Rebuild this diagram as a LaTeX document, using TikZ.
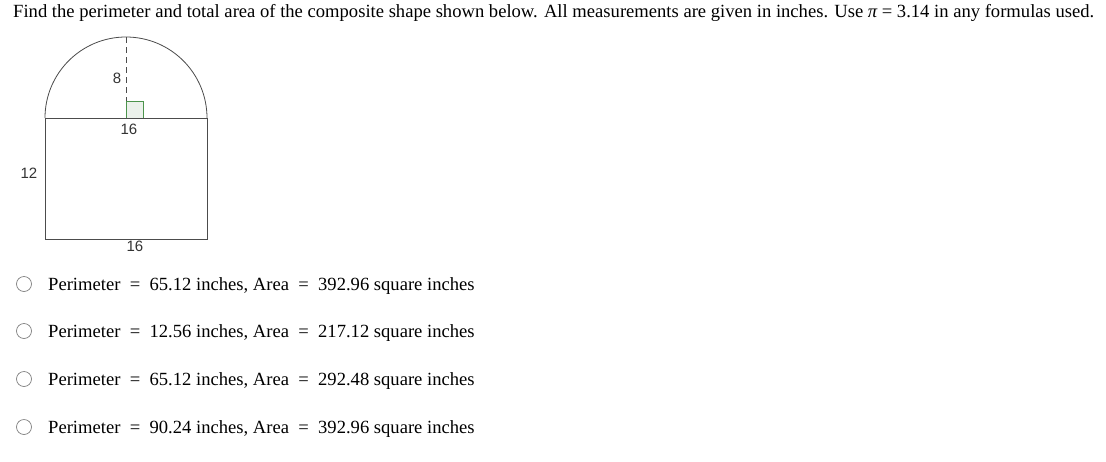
\documentclass[tikz,border=0pt]{standalone}
\usepackage{fontspec}
\setmainfont{Liberation Serif}
\setsansfont{Liberation Sans}
\begin{document}
\begin{tikzpicture}[x=1pt,y=-1pt,
	shape line/.style={draw=black!70,line width=0.8pt},
	dim label/.style={font=\sffamily\fontsize{15}{17}\selectfont,text=black!80,inner sep=0pt},
	body text/.style={font=\fontsize{18.6}{21}\selectfont,anchor=west,inner sep=0pt},
	radio/.style={circle,draw=black!50,line width=0.7pt,minimum size=15pt,inner sep=0pt}]
	\useasboundingbox (0,0) rectangle (1106,461);
	% Question
	\node[body text] (question) at (13,13) {Find the perimeter and total area of the composite shape shown below. All measurements are given in inches. Use {\itshape π} = 3.14 in any formulas used.};
	% Semicircle on top of the rectangle
	\draw[black!70,line width=0.7pt,dash pattern=on 6pt off 4pt] (126,37) -- (126,101);
	\draw[draw=green!40!black!70,fill=green!30!black!8,line width=0.7pt] (126,101) rectangle (143,118);
	\draw[shape line] (45,118) arc[start angle=180,end angle=0,radius=81pt];
	% Rectangle
	\draw[shape line] (45,118) rectangle (207,239);
	% Labels
	\node[dim label] (radius) at (117,78) {8};
	\node[dim label] (diameter) at (129,129) {16};
	\node[dim label] (height) at (29,173) {12};
	\node[dim label] (base) at (135,246) {16};
	% Answer choices
	\foreach \y/\p/\a [count=\i] in {284/65.12/392.96,331/12.56/217.12,379/65.12/292.48,427/90.24/392.96}{
		\node[radio] (radio\i) at (24,\y) {};
		\node[body text] (choice\i) at (48,\y+2) {Perimeter\ \ =\ \ \p\ inches, Area\ \ =\ \ \a\ square inches};}
\end{tikzpicture}
\end{document}
